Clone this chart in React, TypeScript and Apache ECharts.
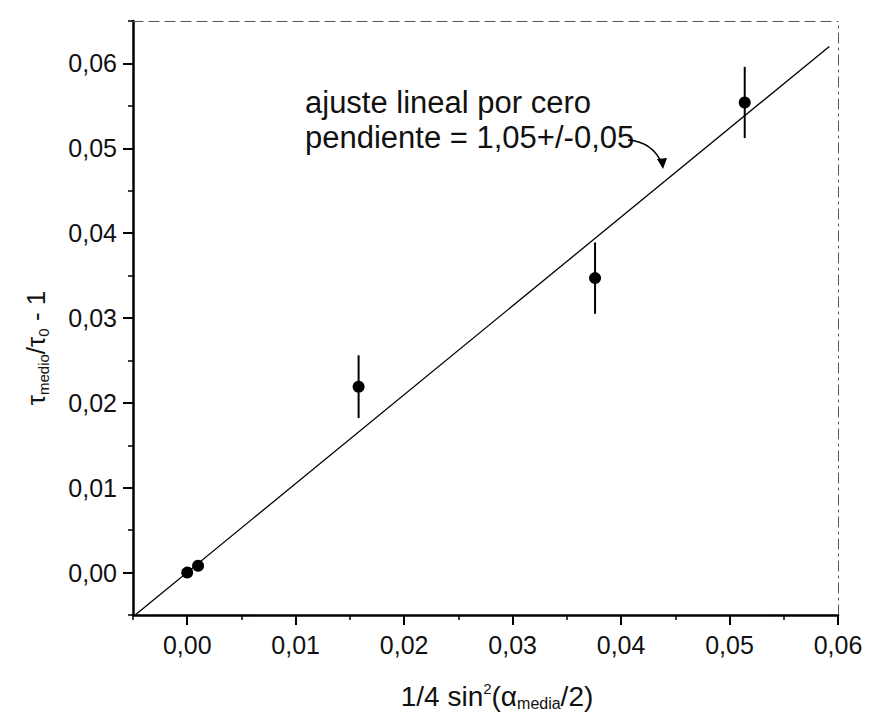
import React, { useEffect, useRef } from "react";
import * as echarts from "echarts";

// data
const xVals = [0.0, 0.001, 0.0158, 0.0376, 0.0514];
const yVals = [0.0, 0.0008, 0.0219, 0.0347, 0.0554];
const yErr = [0.0, 0.0, 0.0037, 0.0042, 0.0042];
const fitLineX = [-0.0048, 0.0592];
const fitLineY = [-0.005, 0.062];
const annotationLines = ["ajuste lineal por cero", "pendiente = 1,05+/-0,05"];

const FONT = "'Liberation Sans', Arial, Helvetica, sans-serif";
const fmt = (v: number) => v.toFixed(2).replace(".", ",");

export default function App() {
  const ref = useRef<HTMLDivElement>(null);
  useEffect(() => {
    if (!ref.current) return;
    const chart = echarts.init(ref.current, null, { renderer: "svg" });
    const points = xVals.map((x, i) => [x, yVals[i]]);
    const errs = xVals.map((x, i) => [x, yVals[i] - yErr[i], yVals[i] + yErr[i]]).filter((_, i) => yErr[i] > 0);
    const fit = fitLineX.map((x, i) => [x, fitLineY[i]]);
    const xMin = -0.005, xMax = 0.06, yMin = -0.005, yMax = 0.065;
    const TICK = "#000";
    chart.setOption({
      animation: false,
      backgroundColor: "#fff",
      grid: { left: 133, right: 38, top: 21, bottom: 100 },
      xAxis: [
        {
          type: "value", min: xMin, max: xMax, splitNumber: 7, position: "bottom",
          axisLine: { show: true, onZero: false, lineStyle: { color: "#000", width: 2.5 } },
          axisTick: { show: true, length: 10, lineStyle: { color: TICK, width: 2 } },
          axisLabel: { formatter: fmt, showMinLabel: false, showMaxLabel: true, fontFamily: FONT, fontSize: 25, color: "#111", margin: 17 },
          splitLine: { show: false },
        },
        {
          type: "value", min: xMin, max: xMax, interval: 0.005, position: "bottom",
          axisLine: { show: false, onZero: false },
          axisTick: { show: true, length: 5, lineStyle: { color: "#000", width: 1.5 } },
          axisLabel: { show: false }, splitLine: { show: false },
        },
        {
          type: "value", min: xMin, max: xMax, position: "top",
          axisLine: { show: true, onZero: false, lineStyle: { color: "#555", width: 1, type: [10, 6] } },
          axisTick: { show: false }, axisLabel: { show: false }, splitLine: { show: false },
        },
      ],
      yAxis: [
        {
          type: "value", min: yMin, max: yMax, splitNumber: 7, position: "left",
          axisLine: { show: true, onZero: false, lineStyle: { color: "#000", width: 2.5 } },
          axisTick: { show: true, length: 10, lineStyle: { color: TICK, width: 2 } },
          axisLabel: { formatter: fmt, showMinLabel: false, showMaxLabel: false, fontFamily: FONT, fontSize: 25, color: "#111", margin: 16 },
          splitLine: { show: false },
        },
        {
          type: "value", min: yMin, max: yMax, interval: 0.005, position: "left",
          axisLine: { show: false, onZero: false },
          axisTick: { show: true, length: 5, lineStyle: { color: "#000", width: 1.5 } },
          axisLabel: { show: false }, splitLine: { show: false },
        },
        {
          type: "value", min: yMin, max: yMax, position: "right",
          axisLine: { show: true, onZero: false, lineStyle: { color: "#555", width: 1, type: [10, 5, 2, 5] } },
          axisTick: { show: false }, axisLabel: { show: false }, splitLine: { show: false },
        },
      ],
      series: [
        {
          type: "line", data: fit, xAxisIndex: 0, yAxisIndex: 0, symbol: "none",
          lineStyle: { color: "#000", width: 1.3 }, z: 2,
        },
        {
          type: "custom", data: errs, xAxisIndex: 0, yAxisIndex: 0, z: 3,
          renderItem: (params: any, api: any) => {
            const x = api.value(0);
            const p1 = api.coord([x, api.value(1)]);
            const p2 = api.coord([x, api.value(2)]);
            return {
              type: "line",
              shape: { x1: p1[0], y1: p1[1], x2: p2[0], y2: p2[1] },
              style: { stroke: "#000", lineWidth: 2 },
            };
          },
        },
        {
          type: "scatter", data: points, xAxisIndex: 0, yAxisIndex: 0, symbol: "circle", symbolSize: 12,
          itemStyle: { color: "#000", opacity: 1 }, z: 4,
        },
      ],
      graphic: [
        {
          type: "text", left: 305, top: 85,
          style: {
            text: annotationLines.join("\n"), fontFamily: FONT, fontSize: 31, lineHeight: 35, fill: "#111",
          },
        },
        {
          type: "bezierCurve",
          shape: { x1: 628, y1: 140, x2: 662, y2: 164, cpx1: 653, cpy1: 142 },
          style: { stroke: "#000", lineWidth: 1.5, fill: null },
        },
        {
          type: "polygon",
          shape: { points: [[663, 169], [657, 159], [667, 158]] },
          style: { fill: "#000" },
        },
        {
          type: "text", x: 36, y: 348, rotation: Math.PI / 2,
          style: {
            text: "{t|τ}{s|medio}{t|/τ}{s|0}{t| - 1}",
            align: "center", verticalAlign: "middle",
            rich: {
              t: { fontFamily: FONT, fontSize: 26, lineHeight: 30, fill: "#111" },
              s: { fontFamily: FONT, fontSize: 15, lineHeight: 12, verticalAlign: "bottom", fill: "#111" },
            },
          },
        },
        {
          type: "text", x: 497, y: 696,
          style: {
            text: "{t|1/4 sin}{p|2}{t|(α}{s|media}{t|/2)}",
            align: "center", verticalAlign: "middle",
            rich: {
              t: { fontFamily: FONT, fontSize: 28, lineHeight: 30, fill: "#111" },
              p: { fontFamily: FONT, fontSize: 15, lineHeight: 12, verticalAlign: "top", fill: "#111" },
              s: { fontFamily: FONT, fontSize: 16, lineHeight: 12, verticalAlign: "bottom", fill: "#111" },
            },
          },
        },
      ],
    });
    return () => chart.dispose();
  }, []);
  return (
    <div
      ref={ref}
      style={{ position: "fixed", left: 0, top: 0, width: 876, height: 715, background: "#fff" }}
    />
  );
}
